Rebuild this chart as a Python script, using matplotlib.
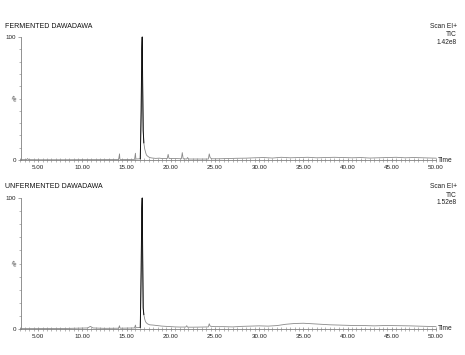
import matplotlib
matplotlib.use("Agg")
import matplotlib.pyplot as plt
from matplotlib.ticker import MultipleLocator, FixedLocator

plt.rcParams['font.family'] = ['Liberation Sans', 'DejaVu Sans']

# ---- data (retention time in minutes, relative intensity %) ----
ferm_time = [3.0, 3.7, 3.8, 3.9, 5.0, 8.0, 10.5, 12.0, 14.1, 14.2, 14.24, 14.3, 15.9,
             16.0, 16.05, 16.1, 16.55, 16.65, 16.72, 16.77, 16.82, 16.88, 16.95, 17.05,
             17.12, 17.18, 17.25, 17.4, 17.6, 17.9, 18.3, 18.7, 19.0, 19.6, 19.7, 19.8,
             20.5, 21.2, 21.3, 21.4, 21.8, 21.9, 22.0, 23.0, 24.25, 24.35, 24.45, 24.6,
             25.5, 26.5, 27.5, 28.5, 29.5, 30.5, 31.5, 32.5, 33.5, 34.5, 35.5, 36.5, 37.5,
             38.5, 39.5, 40.5, 41.5, 42.5, 43.5, 44.5, 45.5, 46.5, 47.5, 48.5, 49.5, 50.0]
ferm_int = [0.3, 0.3, 1.2, 0.3, 0.2, 0.2, 0.3, 0.3, 0.4, 5.0, 0.8, 0.4, 0.5,
            5.5, 1.0, 0.8, 1.0, 40.0, 90.0, 100.0, 60.0, 24.0, 14.0, 9.0,
            7.0, 5.5, 4.0, 3.0, 2.0, 1.6, 1.3, 1.5, 1.2, 1.2, 4.6, 1.2,
            1.2, 1.0, 6.0, 1.0, 0.8, 2.0, 0.8, 0.8, 0.8, 5.0, 2.0, 1.0,
            1.0, 1.2, 1.4, 1.5, 1.8, 2.0, 1.6, 2.2, 1.8, 2.0, 2.2, 1.8, 2.0,
            2.2, 2.0, 1.8, 2.0, 1.6, 1.8, 2.0, 2.2, 1.8, 2.0, 1.8, 1.6, 1.5]

unferm_time = [3.0, 5.0, 8.0, 10.6, 10.9, 11.2, 12.5, 14.1, 14.2, 14.24, 14.3, 15.9,
               16.0, 16.05, 16.1, 16.55, 16.65, 16.72, 16.77, 16.82, 16.88, 16.95, 17.05,
               17.12, 17.2, 17.35, 17.6, 18.0, 18.5, 19.0, 19.5, 20.0, 20.5, 21.0, 21.7,
               21.8, 21.9, 22.5, 23.5, 24.25, 24.35, 24.45, 24.6, 25.0, 26.0, 27.0, 28.0,
               29.0, 30.0, 31.0, 32.0, 33.0, 34.0, 35.0, 36.0, 37.0, 38.0, 39.0, 40.0,
               41.0, 42.0, 43.0, 44.0, 45.0, 46.0, 47.0, 48.0, 49.0, 50.0]
unferm_int = [0.3, 0.3, 0.4, 0.8, 2.0, 0.8, 0.5, 0.6, 2.5, 1.0, 0.6, 0.8,
              3.0, 1.2, 1.0, 1.2, 45.0, 92.0, 100.0, 55.0, 16.0, 11.0, 7.6,
              6.0, 5.0, 4.0, 3.2, 3.0, 2.6, 2.2, 2.0, 1.8, 1.6, 1.5, 1.5,
              2.5, 1.4, 1.4, 1.5, 1.6, 4.0, 2.2, 2.0, 1.8, 1.8, 1.6, 2.0,
              2.2, 2.4, 2.2, 2.6, 3.6, 4.2, 4.4, 4.0, 3.6, 3.2, 3.0, 2.8,
              2.6, 2.6, 2.4, 2.6, 2.6, 2.5, 2.4, 2.2, 2.0, 1.8]

panels = [
    ("FERMENTED DAWADAWA", "1.42e8", ferm_time, ferm_int),
    ("UNFERMENTED DAWADAWA", "1.52e8", unferm_time, unferm_int),
]

x_major = [5.0, 10.0, 15.0, 20.0, 25.0, 30.0, 35.0, 40.0, 45.0, 50.0]
x_labels = ["5.00", "10.00", "15.00", "20.00", "25.00", "30.00", "35.00", "40.00", "45.00", "50.00"]

W, H = 465, 355
fig = plt.figure(figsize=(W / 100, H / 100), dpi=100)
fig.patch.set_facecolor("white")

# axes placement in pixels: (left, zero-line y, hundred-line y)
layout = [(20.5, 160, 37), (20.5, 329, 198)]
axis_gray = "#808080"

for (title, scale, t, v), (lx, y0, y100) in zip(panels, layout):
    ax = fig.add_axes([lx / W, 1 - y0 / H, (436 - lx) / W, (y0 - y100) / H])
    ax.set_xlim(3.0, 50.0)
    ax.set_ylim(0, 100)
    ax.plot(t, v, color="#8a8a8a", lw=0.6, clip_on=False)
    # main peak drawn darker
    pk_t = [tt for tt in t if 16.5 <= tt <= 17.0]
    pk_v = [vv for tt, vv in zip(t, v) if 16.5 <= tt <= 17.0]
    ax.plot(pk_t, pk_v, color="#111111", lw=0.7, clip_on=False)

    for s in ("top", "right"):
        ax.spines[s].set_visible(False)
    for s in ("left", "bottom"):
        ax.spines[s].set_color(axis_gray)
        ax.spines[s].set_linewidth(0.6)

    ax.xaxis.set_major_locator(FixedLocator(x_major))
    ax.set_xticklabels(x_labels)
    ax.xaxis.set_minor_locator(MultipleLocator(0.5))
    ax.tick_params(axis="x", which="major", direction="inout", length=3, width=0.5,
                   color=axis_gray, labelsize=4.5, pad=1.8, labelcolor="#222222")
    ax.tick_params(axis="x", which="minor", direction="inout", length=2.2, width=0.4,
                   color=axis_gray)

    ax.yaxis.set_major_locator(FixedLocator([0, 100]))
    ax.set_yticklabels(["0", "100"])
    ax.yaxis.set_minor_locator(MultipleLocator(10))
    ax.tick_params(axis="y", which="major", direction="out", length=2, width=0.5,
                   color=axis_gray, labelsize=4.5, pad=1, labelcolor="#222222")
    ax.tick_params(axis="y", which="minor", direction="out", length=1.5, width=0.4,
                   color=axis_gray)

    ax.text(-0.018, 0.5, "%", transform=ax.transAxes, fontsize=4.5, rotation=-45,
            ha="center", va="center", color="#222222")
    ax.text(1.004, 0.0, "Time", transform=ax.transAxes, fontsize=4.8,
            ha="left", va="center", color="#222222")

    fig.text(5 / W, 1 - (y100 - 11) / H, title, fontsize=5, ha="left", va="center",
             color="#111111")
    fig.text(457 / W, 1 - (y100 - 11) / H, "Scan EI+", fontsize=4.8, ha="right",
             va="center", color="#222222")
    fig.text(457 / W, 1 - (y100 - 3) / H, "TIC", fontsize=4.8, ha="right",
             va="center", color="#222222")
    fig.text(457 / W, 1 - (y100 + 5) / H, scale, fontsize=4.8, ha="right",
             va="center", color="#222222")

fig.savefig("out.png", dpi=100, facecolor="white")
